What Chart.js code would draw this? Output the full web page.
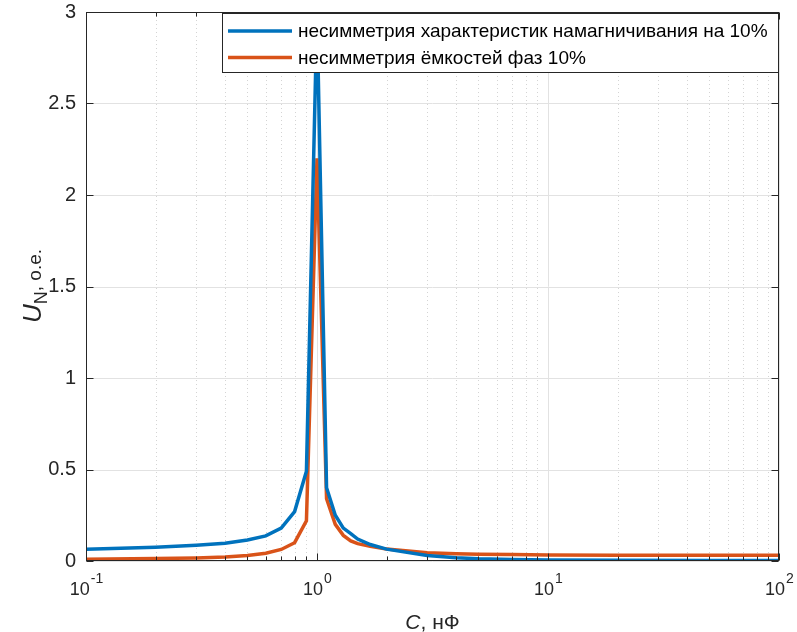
<!DOCTYPE html>
<html>
<head>
<meta charset="utf-8">
<title>U_N vs C</title>
<script src="https://cdn.jsdelivr.net/npm/chart.js@4.4.0/dist/chart.umd.min.js"></script>
<style>
  html, body { margin: 0; padding: 0; background: #fff; }
  #wrap { width: 797px; height: 632px; }
</style>
</head>
<body>
<div id="wrap"><canvas id="unChart" width="797" height="632"></canvas></div>
<script>
// capacitance, nF (log axis)
var capacitance = [0.1, 0.2, 0.3, 0.4, 0.5, 0.6, 0.7, 0.8, 0.9, 1.0, 1.1, 1.2, 1.3, 1.4, 1.5, 1.7, 2, 3, 4, 5, 7, 10, 20, 50, 100];
// U_N, p.u.
var magnetAsym = [0.064, 0.075, 0.086, 0.097, 0.115, 0.137, 0.18, 0.27, 0.49, 3.0, 0.40, 0.25, 0.18, 0.15, 0.12, 0.09, 0.065, 0.03, 0.018, 0.012, 0.008, 0.006, 0.004, 0.003, 0.003];
var capAsym = [0.01, 0.013, 0.017, 0.022, 0.03, 0.042, 0.063, 0.10, 0.22, 2.2, 0.34, 0.20, 0.14, 0.11, 0.095, 0.08, 0.065, 0.045, 0.04, 0.037, 0.035, 0.033, 0.032, 0.032, 0.032];
var seriesNames = ['несимметрия характеристик намагничивания на 10%', 'несимметрия ёмкостей фаз 10%'];
var seriesColors = ['#0072BD', '#D95319'];
var yTicks = [0, 0.5, 1, 1.5, 2, 2.5, 3];
var xDecades = [0.1, 1, 10, 100];
var xExponents = ['-1', '0', '1', '2'];

var FONT = '"Liberation Sans", Arial, sans-serif';
var AXIS_COLOR = '#262626';

function toPoints(ys) {
  return capacitance.map(function(c, i) { return { x: c, y: ys[i] }; });
}

function seg(c, x1, y1, x2, y2) {
  c.beginPath();
  c.moveTo(x1, y1);
  c.lineTo(x2, y2);
  c.stroke();
}

var matlabAxes = {
  id: 'matlabAxes',
  beforeDatasetsDraw: function(chart) {
    var c = chart.ctx, a = chart.chartArea, xs = chart.scales.x, ys = chart.scales.y;
    c.save();
    c.lineWidth = 1;
    // dotted minor grid inside each decade
    c.strokeStyle = '#d4d4d4';
    c.setLineDash([1, 3]);
    for (var d = 0; d < xDecades.length - 1; d++) {
      for (var k = 2; k <= 9; k++) {
        var px = Math.round(xs.getPixelForValue(xDecades[d] * k)) + 0.5;
        seg(c, px, a.top, px, a.bottom);
      }
    }
    // solid major grid
    c.setLineDash([]);
    c.strokeStyle = '#e2e2e2';
    xDecades.forEach(function(v) {
      var px = Math.round(xs.getPixelForValue(v)) + 0.5;
      seg(c, px, a.top, px, a.bottom);
    });
    yTicks.forEach(function(v) {
      var py = Math.round(ys.getPixelForValue(v)) + 0.5;
      seg(c, a.left, py, a.right, py);
    });
    c.restore();
  },
  afterDraw: function(chart) {
    var c = chart.ctx, a = chart.chartArea, xs = chart.scales.x, ys = chart.scales.y;
    c.save();

    // axes box
    c.strokeStyle = AXIS_COLOR;
    c.lineWidth = 1;
    var L = Math.round(a.left) + 0.5, R = Math.round(a.right) - 0.5;
    var T = Math.round(a.top) + 0.5, B = Math.round(a.bottom) - 0.5;
    c.strokeRect(L, T, R - L, B - T);

    // tick marks pointing inward
    yTicks.forEach(function(v) {
      var py = Math.round(ys.getPixelForValue(v)) + 0.5;
      seg(c, L, py, L + 7, py);
      seg(c, R, py, R - 7, py);
    });
    for (var d = 0; d < xDecades.length; d++) {
      var px = Math.round(xs.getPixelForValue(xDecades[d])) + 0.5;
      seg(c, px, B, px, B - 7);
      seg(c, px, T, px, T + 7);
      if (d === xDecades.length - 1) break;
      for (var k = 2; k <= 9; k++) {
        var mx = Math.round(xs.getPixelForValue(xDecades[d] * k)) + 0.5;
        seg(c, mx, B, mx, B - 4);
        seg(c, mx, T, mx, T + 4);
      }
    }

    // x tick labels 10^n
    c.fillStyle = AXIS_COLOR;
    c.textBaseline = 'alphabetic';
    c.textAlign = 'left';
    xDecades.forEach(function(v, i) {
      var px = xs.getPixelForValue(v);
      c.font = '18px ' + FONT;
      var wb = c.measureText('10').width;
      c.font = '14px ' + FONT;
      var we = c.measureText(xExponents[i]).width;
      var x0 = px - (wb + we) / 2;
      c.font = '18px ' + FONT;
      c.fillText('10', x0, 595);
      c.font = '14px ' + FONT;
      c.fillText(xExponents[i], x0 + wb + 1, 583);
    });

    // x axis title: C, нФ
    c.font = 'italic 21px ' + FONT;
    var wc = c.measureText('C').width;
    c.font = '21px ' + FONT;
    var wr = c.measureText(', нФ').width;
    var cx = (a.left + a.right) / 2 - (wc + wr) / 2;
    c.font = 'italic 21px ' + FONT;
    c.fillText('C', cx, 629);
    c.font = '21px ' + FONT;
    c.fillText(', нФ', cx + wc, 629);

    // y axis title: U_N, о.е.
    c.save();
    c.translate(41, 286);
    c.rotate(-Math.PI / 2);
    c.font = 'italic 26px ' + FONT;
    var wu = c.measureText('U').width;
    c.font = '18px ' + FONT;
    var wn = c.measureText('N').width;
    c.font = '19px ' + FONT;
    var wt = c.measureText(', о.е.').width;
    var sx = -(wu + wn + wt) / 2;
    c.font = 'italic 26px ' + FONT;
    c.fillText('U', sx, 0);
    c.font = '18px ' + FONT;
    c.fillText('N', sx + wu, 6);
    c.font = '19px ' + FONT;
    c.fillText(', о.е.', sx + wu + wn, 0);
    c.restore();

    // legend box in the upper right corner
    var lx = 222, ly = 13, lw = Math.round(a.right) - lx, lh = 60;
    c.fillStyle = '#ffffff';
    c.fillRect(lx, ly, lw, lh);
    c.strokeStyle = AXIS_COLOR;
    c.lineWidth = 1;
    c.strokeRect(lx + 0.5, ly + 0.5, lw - 1, lh - 1);
    c.font = '19px ' + FONT;
    c.textBaseline = 'middle';
    chart.data.datasets.forEach(function(ds, i) {
      var rowY = ly + 18 + i * 26.5;
      c.strokeStyle = ds.borderColor;
      c.lineWidth = 3.5;
      seg(c, lx + 6, rowY, lx + 70, rowY);
      c.fillStyle = '#000000';
      c.fillText(ds.label, lx + 76, rowY + 1);
    });

    c.restore();
  }
};

var chart = new Chart(document.getElementById('unChart'), {
  type: 'line',
  data: {
    datasets: [
      { label: seriesNames[0], data: toPoints(magnetAsym), borderColor: seriesColors[0], borderWidth: 3.5, pointRadius: 0, tension: 0, fill: false },
      { label: seriesNames[1], data: toPoints(capAsym), borderColor: seriesColors[1], borderWidth: 3.5, pointRadius: 0, tension: 0, fill: false }
    ]
  },
  options: {
    responsive: false,
    animation: false,
    layout: { padding: { top: 12, right: 18, left: 0, bottom: 0 } },
    plugins: { legend: { display: false }, tooltip: { enabled: false } },
    scales: {
      x: {
        type: 'logarithmic', min: 0.1, max: 100,
        grid: { display: false, drawTicks: false },
        border: { display: false },
        ticks: { display: false },
        afterFit: function(s) { s.height = 71; s.paddingLeft = 0; s.paddingRight = 0; }
      },
      y: {
        min: 0, max: 3,
        grid: { display: false, drawTicks: false },
        border: { display: false },
        ticks: {
          stepSize: 0.5, color: AXIS_COLOR, padding: 10,
          font: { family: FONT, size: 20 },
          callback: function(v) { return String(v); }
        },
        afterFit: function(s) { s.width = 86; s.paddingTop = 0; s.paddingBottom = 0; }
      }
    }
  },
  plugins: [matlabAxes]
});
</script>
</body>
</html>
